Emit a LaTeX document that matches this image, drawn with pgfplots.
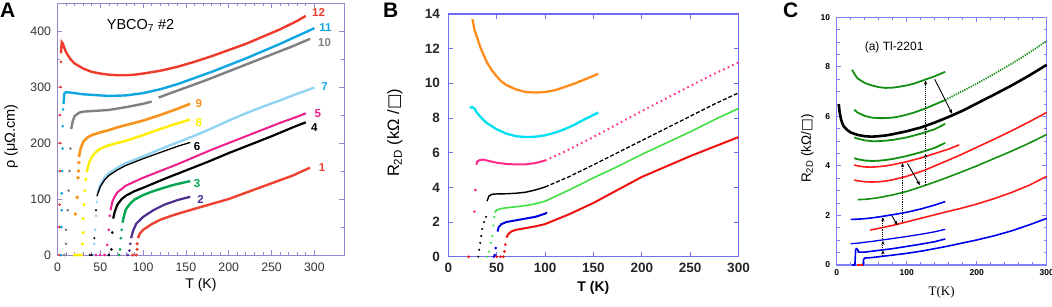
\documentclass[border=0pt]{standalone}
\usepackage{pgfplots}
\pgfplotsset{compat=1.18}
\usepackage{fontspec}
\setmainfont{Liberation Sans}
\newfontfamily\timesf{Liberation Serif}
\newfontfamily\dejavu{DejaVu Sans}
\usetikzlibrary{arrows.meta}
\definecolor{frA}{HTML}{9A84CF}
\definecolor{frB}{HTML}{6E6EF2}
\definecolor{frC}{HTML}{7F7FFF}
% panel A colours
\definecolor{aTwelve}{HTML}{EF3B2C}
\definecolor{aEleven}{HTML}{10A6E2}
\definecolor{aTen}{HTML}{808080}
\definecolor{aNine}{HTML}{F7931E}
\definecolor{aEight}{HTML}{FFEE00}
\definecolor{aSeven}{HTML}{93D3F2}
\definecolor{aFive}{HTML}{EC1F8C}
\definecolor{aThree}{HTML}{00A651}
\definecolor{aTwo}{HTML}{4B2D8F}
\definecolor{aOne}{HTML}{EF4130}
% panel B colours
\definecolor{bOr}{HTML}{FF8C1A}
\definecolor{bCy}{HTML}{00E0F0}
\definecolor{bMa}{HTML}{FF2A8A}
\definecolor{bGr}{HTML}{40E040}
\definecolor{bBl}{HTML}{0000DD}
\definecolor{bRe}{HTML}{EE1111}
% panel C colours
\definecolor{cGr}{HTML}{139013}
\definecolor{cRe}{HTML}{FF1A1A}
\definecolor{cBl}{HTML}{0000EE}
\pgfplotsset{
  trans/.style={only marks, mark=*, mark size=1.15pt},
}
\begin{document}
\begin{tikzpicture}
\useasboundingbox (0,0) rectangle (1052pt,306pt);
\node[anchor=north west, inner sep=0, font=\fontsize{21}{21}\selectfont\bfseries] at (0pt,303pt) {A};
\node[anchor=north west, inner sep=0, font=\fontsize{21}{21}\selectfont\bfseries] at (383pt,303pt) {B};
\node[anchor=north west, inner sep=0, font=\fontsize{21}{21}\selectfont\bfseries] at (783pt,303pt) {C};

% ================= Panel A =================
\begin{axis}[
  at={(57.5pt,51pt)}, anchor=south west, scale only axis,
  width=286.8pt, height=252pt,
  xmin=0, xmax=335, ymin=0, ymax=450,
  xtick={0,50,...,300}, ytick={0,100,...,400},
  minor x tick num=4, minor y tick num=1,
  tick align=inside,
  axis line style={frA, line width=0.9pt},
  tick style={frA, line width=0.7pt},
  major tick length=5pt, minor tick length=3pt,
  /pgf/number format/assume math mode=true,
  tick label style={font=\fontsize{12.3}{13}\selectfont, text=black!80},
  xticklabel style={yshift=-4pt},
  yticklabel style={xshift=-3pt},
  xlabel={T (K)}, ylabel={ρ (μΩ.cm)},
  xlabel style={at={(axis description cs:0.5,0)}, anchor=north, inner sep=0, yshift=-23pt, font=\fontsize{14}{15}\selectfont},
  ylabel style={at={(axis description cs:-0.162,0.47)}, anchor=center, inner sep=0, font=\fontsize{14.5}{15}\selectfont},
  clip=false,
]
% 12
\addplot[trans, aTwelve] coordinates {(2,0)(2.5,50)(2.5,90)(3,150)(3,200)(3,250)(3.5,300)(4,345)};
\addplot[aTwelve, line width=2.4pt] coordinates {(4,360)(5,380)(6,378)(8,370)(10,362)(15,350)(20,342)(30,333)(40,327)(50,324)(60,322)(70,321)(80,321)(90,322)(100,324)(120,329)(140,336)(160,345)(180,355)(200,366)(220,377)(240,390)(260,403)(280,418)(290,427)};
% 11
\addplot[trans, aEleven] coordinates {(4,0)(4.5,50)(5,80)(5,110)(5.5,150)(6,190)(6,230)(6.5,260)};
\addplot[aEleven, line width=2.4pt] coordinates {(7,270)(8,288)(10,291)(15,290)(20,289)(30,287)(40,286)(50,285)(60,284)(80,285)(100,289)(120,296)(140,305)(160,316)(180,327)(200,339)(220,351)(240,364)(260,377)(280,391)(300,405)};
% 10
\addplot[trans, aTen] coordinates {(8,0)(10,20)(10,45)(12,80)(13,115)(14,150)(15,190)};
\addplot[aTen, line width=2.4pt] coordinates {(16,225)(18,240)(20,248)(25,254)(30,256)(40,257)(60,259)(80,264)(100,270)(110,274)};
\addplot[aTen, line width=2.4pt] coordinates {(118,281)(130,288)(150,299)(175,313)(200,328)(225,343)(250,358)(275,373)(295,386)};
% 9
\addplot[trans, aNine, mark size=1.6pt] coordinates {(21,73)(23,103)(24,138)(24.5,150)(25,165)};
\addplot[aNine, line width=2.6pt] coordinates {(25,175)(27,190)(30,202)(35,210)(40,214)(50,219)(60,223)(70,228)(80,232)(100,240)(120,250)(140,261)(155,270)};
% 8
\addplot[trans, aEight, mark size=1.4pt] coordinates {(20,0)(23,0)(26,0)(28,0)(29,20)(30,40)(30,65)(31,90)(32,115)(33,135)};
\addplot[aEight, line width=2.4pt] coordinates {(34,148)(37,165)(40,175)(45,184)(50,190)(60,196)(80,204)(100,214)(120,225)(140,235)(155,242)};
% 7
\addplot[trans, aSeven] coordinates {(42,0)(43,20)(44,45)(45,70)(46,95)};
\addplot[aSeven, line width=2.4pt] coordinates {(47,110)(50,125)(55,138)(60,146)(70,156)(80,164)(100,176)(120,189)(140,201)(160,213)(180,226)(200,240)(220,253)(240,265)(260,276)(280,288)(300,299)};
% 6
\addplot[trans, black, mark size=0.8pt] coordinates {(38,0)(40,0)(43,30)(45,80)};
\addplot[black, line width=1.3pt] coordinates {(46,105)(50,122)(55,134)(60,142)(70,152)(80,160)(100,172)(120,183)(140,194)(155,201)};
% 5
\addplot[trans, aFive] coordinates {(45,0)(50,0)(55,0)(58,18)(60,45)(61,70)};
\addplot[aFive, line width=2.0pt] coordinates {(62,80)(64,95)(67,105)(70,112)(80,124)(100,138)(120,150)(140,162)(160,175)(180,188)(200,200)(220,212)(240,224)(260,236)(280,247)(290,253)};
% 4
\addplot[trans, black] coordinates {(60,0)(63,10)(64,40)};
\addplot[black, line width=2.2pt] coordinates {(65,65)(67,78)(70,90)(75,100)(80,106)(90,114)(100,120)(125,136)(150,151)(175,166)(200,182)(225,197)(250,212)(275,228)(290,237)};
% 3
\addplot[trans, aThree] coordinates {(72,0)(73,10)(74,30)(75,45)};
\addplot[aThree, line width=2.4pt] coordinates {(76,58)(78,72)(80,82)(85,92)(90,99)(100,107)(110,113)(120,118)(135,125)(155,132)};
% 2
\addplot[trans, aTwo] coordinates {(82,0)(84,8)(85,20)};
\addplot[aTwo, line width=2.2pt] coordinates {(86,30)(88,42)(92,56)(100,68)(112,80)(125,90)(140,98)(155,104)};
% 1
\addplot[trans, aOne, mark size=1.4pt] coordinates {(88,0)(92,0)(93,10)(93,20)};
\addplot[aOne, line width=2.4pt] coordinates {(94,30)(96,38)(100,45)(110,55)(120,63)(135,71)(150,78)(175,89)(200,100)(225,114)(250,128)(275,142)(295,156)};
% labels
\begin{scope}[every node/.style={font=\bfseries\fontsize{11.5}{12}\selectfont, inner sep=0}]
\node[text=aTwelve] at (axis cs:305,433) {12};
\node[text=aEleven] at (axis cs:313,407) {11};
\node[text=aTen] at (axis cs:312,380) {10};
\node[text=aEleven] at (axis cs:312,300) {7};
\node[text=aFive] at (axis cs:304,252) {5};
\node[text=black] at (axis cs:300,227) {4};
\node[text=aOne] at (axis cs:309,157) {1};
\node[text=aNine] at (axis cs:165,271) {9};
\node[text=aEight] at (axis cs:165,237) {8};
\node[text=black] at (axis cs:163,193) {6};
\node[text=aThree] at (axis cs:163,128) {3};
\node[text=aTwo] at (axis cs:167,100) {2};
\end{scope}
\node[font=\fontsize{14.5}{15}\selectfont, inner sep=0] at (axis cs:97,410) {YBCO\textsubscript{7} \#2};
\end{axis}

% ================= Panel B =================
\begin{axis}[
  at={(448.3pt,49.3pt)}, anchor=south west, scale only axis,
  width=290.2pt, height=242.7pt,
  xmin=0, xmax=300, ymin=0, ymax=14,
  xtick={0,50,...,300}, ytick={0,2,...,14},
  tick align=inside,
  axis line style={frB, line width=1.1pt},
  tick style={frB, line width=0.9pt},
  major tick length=5pt,
  /pgf/number format/assume math mode=true,
  tick label style={font=\bfseries\fontsize{13.5}{14}\selectfont, text=black!85},
  xticklabel style={yshift=-3pt},
  yticklabel style={xshift=-5pt},
  xlabel={T (K)}, ylabel={R\textsubscript{2D} (kΩ /{\dejavu □})},
  xlabel style={at={(axis description cs:0.5,0)}, anchor=north, inner sep=0, yshift=-24pt, font=\bfseries\fontsize{14}{15}\selectfont},
  ylabel style={at={(axis description cs:-0.184,0.51)}, anchor=center, inner sep=0, font=\fontsize{16.5}{17}\selectfont},
  clip=false,
]
\addplot[bOr, line width=2.3pt] coordinates {(25,13.7)(27,13.1)(30,12.6)(33,12.1)(36,11.7)(40,11.2)(45,10.75)(50,10.4)(55,10.1)(60,9.9)(70,9.65)(80,9.5)(90,9.47)(100,9.5)(110,9.6)(120,9.78)(130,9.98)(140,10.2)(155,10.55)};
\addplot[bCy, line width=2.3pt] coordinates {(22,8.6)(25,8.62)(27,8.55)(29,8.35)(32,8.15)(36,7.9)(40,7.7)(50,7.35)(60,7.1)(70,6.95)(80,6.9)(90,6.92)(100,7.0)(110,7.15)(120,7.35)(130,7.6)(140,7.9)(155,8.32)};
\addplot[trans, bMa] coordinates {(27,2.6)(28,3.85)};
\addplot[bMa, line width=2.0pt] coordinates {(29,5.3)(30,5.5)(33,5.58)(36,5.6)(40,5.55)(50,5.42)(60,5.35)(70,5.32)(80,5.33)(90,5.4)(100,5.55)};
\addplot[bMa, line width=2.0pt, dash pattern=on 1.6pt off 3.4pt] coordinates {(100,5.55)(120,6.05)(150,6.9)(175,7.65)(200,8.4)(225,9.12)(250,9.85)(275,10.55)(300,11.2)};
\addplot[trans, black, mark size=0.8pt] coordinates {(31,0)(32,0.4)(33,0.8)(34,1.2)(35,1.6)(37,2.0)(39,2.3)};
\addplot[black, line width=1.4pt] coordinates {(40,3.2)(42,3.5)(45,3.6)(50,3.62)(60,3.63)(70,3.66)(80,3.72)(90,3.85)(100,4.02)};
\addplot[black, line width=1.3pt, dash pattern=on 4pt off 2pt] coordinates {(100,4.02)(125,4.62)(150,5.3)(175,6.0)(200,6.7)(225,7.4)(250,8.1)(275,8.8)(300,9.45)};
\addplot[trans, bGr, mark size=0.9pt] coordinates {(40,0)(42,0.3)(44,0.8)(45.5,1.2)(46.5,1.8)(47.5,2.3)};
\addplot[bGr, line width=1.6pt] coordinates {(48,2.55)(50,2.7)(55,2.78)(60,2.82)(70,2.88)(80,2.95)(90,3.05)(100,3.2)(125,3.85)(150,4.55)(175,5.2)(200,5.9)(225,6.55)(250,7.2)(275,7.9)(300,8.55)};
\addplot[trans, bRe] coordinates {(21,0)(50,0)(54,0)(57,0)(58,0.3)(59,0.7)};
\addplot[bRe, line width=2.0pt] coordinates {(60,1.1)(62,1.3)(65,1.45)(70,1.55)(80,1.65)(90,1.75)(100,1.88)(125,2.45)(150,3.1)(175,3.85)(200,4.6)(225,5.2)(250,5.8)(275,6.35)(300,6.9)};
\addplot[trans, bBl] coordinates {(47,0)(48,0.1)(49,0.5)};
\addplot[bBl, line width=2.0pt] coordinates {(51,1.45)(52,1.7)(55,1.88)(60,2.0)(70,2.1)(80,2.2)(90,2.3)(100,2.48)(102,2.55)};
\end{axis}

% ================= Panel C =================
\begin{axis}[
  at={(836.7pt,41pt)}, anchor=south west, scale only axis,
  width=210pt, height=247.7pt,
  xmin=0, xmax=300, ymin=0, ymax=10,
  xtick={0,100,200,300}, ytick={0,2,...,10},
  minor x tick num=4, minor y tick num=3,
  tick align=inside,
  axis line style={frC, line width=1.2pt},
  tick style={frC, line width=0.9pt},
  major tick length=4.5pt, minor tick length=3pt,
  /pgf/number format/assume math mode=true,
  tick label style={font=\bfseries\fontsize{8.5}{9}\selectfont},
  xticklabel style={yshift=-1pt},
  yticklabel style={xshift=-3pt},
  xlabel={\timesf T(K)}, ylabel={R\textsubscript{2D} (kΩ/{\dejavu □})},
  xlabel style={at={(axis description cs:0.5,0)}, anchor=north, inner sep=0, yshift=-21pt, font=\fontsize{13}{14}\selectfont},
  ylabel style={at={(axis description cs:-0.14,0.47)}, anchor=center, inner sep=0, font=\fontsize{13.5}{14}\selectfont},
  clip=false,
]
\addplot[cGr, line width=1.8pt] coordinates {(22,7.88)(26,7.68)(30,7.53)(40,7.35)(50,7.25)(60,7.18)(70,7.15)(80,7.16)(90,7.2)(100,7.25)(110,7.32)(120,7.42)(130,7.52)(140,7.62)(155,7.8)};
\addplot[cGr, line width=1.8pt] coordinates {(25,6.27)(30,6.15)(40,6.02)(50,5.95)(60,5.93)(70,5.93)(80,5.95)(90,6.0)(100,6.07)(110,6.15)(120,6.25)(130,6.36)(140,6.48)(155,6.66)};
\addplot[cGr, line width=1.8pt, dash pattern=on 1.2pt off 1.2pt] coordinates {(155,6.66)(170,6.88)(185,7.1)(200,7.32)(215,7.56)(230,7.8)(250,8.13)(265,8.39)(280,8.66)(300,9.05)};
\addplot[black, line width=2.6pt] coordinates {(3,6.5)(4,6.2)(6,5.9)(8,5.72)(10,5.6)(15,5.45)(20,5.35)(30,5.25)(40,5.2)(50,5.18)(60,5.2)(70,5.23)(80,5.28)(100,5.4)(120,5.55)(140,5.75)(160,5.98)(180,6.23)(200,6.52)(225,6.88)(250,7.25)(275,7.65)(300,8.08)};
\addplot[cGr, line width=1.8pt] coordinates {(25,5.15)(30,5.1)(40,5.03)(50,5.0)(60,5.0)(70,5.02)(80,5.05)(100,5.15)(120,5.3)(140,5.48)(155,5.7)};
\addplot[cGr, line width=1.8pt] coordinates {(25,4.31)(30,4.27)(40,4.22)(50,4.2)(60,4.21)(70,4.24)(80,4.28)(100,4.4)(120,4.55)(140,4.73)(155,4.93)};
\addplot[cRe, line width=1.6pt] coordinates {(25,4.04)(30,4.0)(40,3.96)(50,3.95)(60,3.97)(70,4.0)(80,4.05)(100,4.17)(120,4.32)(140,4.5)(160,4.68)(175,4.85)};
\addplot[cRe, line width=1.6pt] coordinates {(25,3.43)(30,3.4)(40,3.36)(50,3.35)(60,3.36)(70,3.39)(80,3.44)(100,3.58)(125,3.82)(150,4.12)(175,4.42)(200,4.75)(225,5.08)(250,5.42)(275,5.78)(300,6.16)};
\addplot[cGr, line width=1.6pt] coordinates {(30,2.64)(40,2.65)(50,2.68)(60,2.72)(80,2.83)(100,2.97)(125,3.2)(150,3.45)(175,3.72)(200,4.0)(225,4.3)(250,4.6)(275,4.92)(300,5.27)};
\addplot[cBl, line width=1.6pt] coordinates {(20,1.84)(30,1.85)(40,1.87)(50,1.9)(60,1.94)(80,2.03)(100,2.13)(120,2.26)(140,2.42)(155,2.56)};
\addplot[cRe, line width=1.6pt] coordinates {(48,1.41)(60,1.48)(80,1.6)(100,1.74)(125,1.92)(150,2.1)(175,2.27)(200,2.46)(225,2.68)(250,2.93)(275,3.22)(300,3.58)};
\addplot[cBl, line width=1.3pt] coordinates {(20,0.86)(30,0.88)(40,0.92)(50,0.95)(60,0.99)(80,1.07)(100,1.15)(120,1.24)(140,1.34)(155,1.44)};
\addplot[cBl, line width=1.6pt] coordinates {(22,0)(26,0)(27,0.6)(28,0.66)(30,0.63)(31,0.52)(40,0.52)(60,0.59)(80,0.66)(100,0.75)(120,0.84)(140,0.94)(155,1.05)};
\addplot[cBl, line width=1.6pt] coordinates {(36,0)(37.5,0)(38.5,0.22)(40,0.28)(50,0.3)(62,0.34)(80,0.4)(100,0.47)(125,0.58)(155,0.74)(175,0.86)(200,1.01)(225,1.18)(250,1.38)(275,1.62)(300,1.88)};
\addplot[cRe, line width=2.2pt] coordinates {(29,0)(37,0)};
% arrows
\pgfplotsset{dar/.style={black, line width=0.9pt, densely dotted, -{Stealth[length=4pt,width=3.2pt,inset=1pt]}},
             sar/.style={black, line width=0.9pt, -{Stealth[length=4.5pt,width=3.4pt,inset=1pt]}}}
\addplot[dar] coordinates {(66,0.36)(66,0.6)};
\addplot[dar] coordinates {(66,0.68)(66,0.98)};
\addplot[dar] coordinates {(66,1.05)(66,1.93)};
\addplot[dar] coordinates {(94,1.72)(94,4.12)};
\addplot[dar] coordinates {(127,3.22)(127,4.5)};
\addplot[dar] coordinates {(127,4.62)(127,5.6)};
\addplot[dar] coordinates {(127,5.68)(127,7.45)};
\addplot[sar] coordinates {(140,7.5)(165,6.1)};
\addplot[sar] coordinates {(101,4.1)(119,3.22)};
\addplot[sar] coordinates {(79,1.98)(87,1.6)};
\node[font=\fontsize{12}{13}\selectfont, inner sep=0] at (axis cs:82,8.8) {(a) Tl-2201};
\end{axis}
\end{tikzpicture}
\end{document}
